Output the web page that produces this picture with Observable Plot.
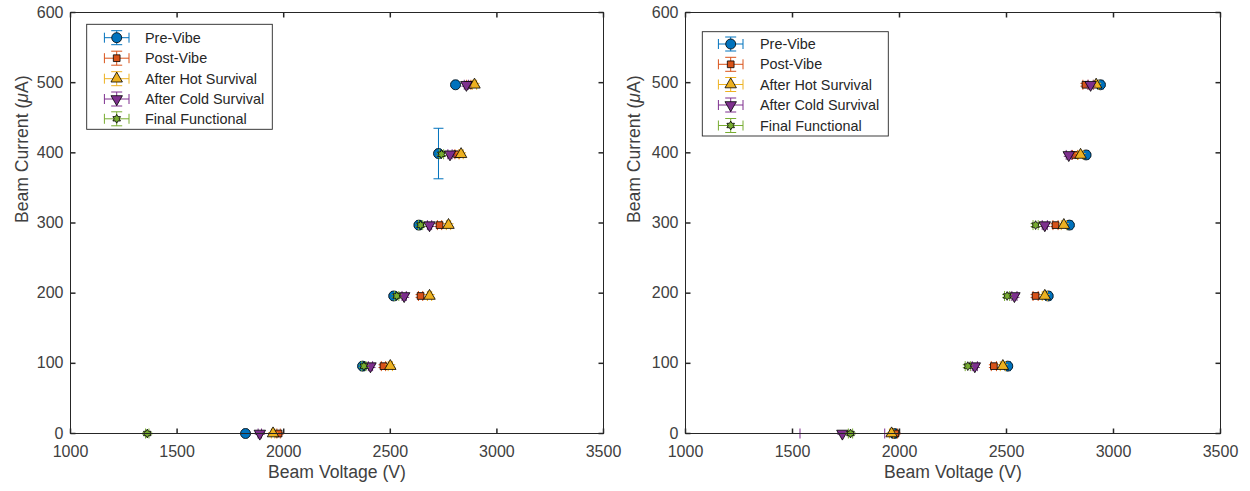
<!DOCTYPE html>
<html>
<head>
<meta charset="utf-8">
<script src="https://cdn.jsdelivr.net/npm/d3@7"></script>
<script src="https://cdn.jsdelivr.net/npm/@observablehq/plot@0.6"></script>
<style>
  body { margin: 0; background: #fff; }
  #wrap { position: relative; width: 1250px; height: 491px; display: flex; font-family: "Liberation Sans", Arial, Helvetica, sans-serif; }
  .panel { position: relative; width: 625px; height: 491px; }
  .panel svg.overlay { position: absolute; left: 0; top: 0; pointer-events: none; }
</style>
</head>
<body>
<div id="wrap"></div>
<script>
// ---------- data ----------
const seriesNames = ["Pre-Vibe", "Post-Vibe", "After Hot Survival", "After Cold Survival", "Final Functional"];
const seriesColors = ["#0072BD", "#D95319", "#EDB120", "#7E2F8E", "#77AC30"];
const xTicks = [1000, 1500, 2000, 2500, 3000, 3500];
const yTicks = [0, 100, 200, 300, 400, 500, 600];
const xLabel = "Beam Voltage (V)";
const yLabel = "Beam Current (μA)";

// rows: [beam voltage (V), beam current (µA), voltage error (V), current error (µA)]
const leftPreVibe         = [[1821, 0, 8, 1], [2370, 96, 10, 2], [2516, 196, 10, 2], [2634, 297, 10, 2], [2726, 399, 10, 36], [2806, 497, 8, 2]];
const leftPostVibe        = [[1976, 0, 8, 1], [2468, 96, 10, 2], [2642, 196, 10, 2], [2731, 297, 10, 2], [2813, 398, 10, 2], [2868, 497, 10, 2]];
const leftHotSurvival     = [[1950, 0, 8, 1], [2500, 96, 10, 2], [2684, 196, 10, 2], [2773, 297, 10, 2], [2832, 398, 10, 2], [2895, 497, 10, 2]];
const leftColdSurvival    = [[1888, 0, 8, 1], [2407, 96, 10, 2], [2565, 196, 10, 2], [2684, 297, 10, 2], [2780, 398, 10, 2], [2857, 497, 10, 2]];
const leftFinalFunctional = [[1360, 0, 8, 1], [2376, 96, 10, 2], [2530, 196, 10, 2], [2642, 297, 10, 2], [2740, 398, 10, 2]];

const rightPreVibe         = [[1975, 0, 10, 1], [2506, 96, 12, 2], [2695, 196, 12, 2], [2794, 297, 12, 2], [2872, 397, 12, 2], [2939, 497, 12, 2]];
const rightPostVibe        = [[1981, 0, 10, 1], [2441, 96, 12, 2], [2636, 196, 12, 2], [2729, 297, 12, 2], [2820, 397, 12, 2], [2869, 497, 12, 2]];
const rightHotSurvival     = [[1963, 0, 10, 1], [2483, 96, 12, 2], [2679, 196, 12, 2], [2768, 297, 12, 2], [2846, 397, 12, 2], [2919, 497, 12, 2]];
const rightColdSurvival    = [[1733, 0, 198, 1], [2352, 96, 12, 2], [2537, 196, 12, 2], [2679, 297, 12, 2], [2791, 397, 12, 2], [2893, 497, 12, 2]];
const rightFinalFunctional = [[1771, 0, 10, 1], [2319, 96, 12, 2], [2503, 196, 12, 2], [2636, 297, 12, 2]];

// ---------- symbols ----------
function poly(ctx, pts) { pts.forEach(([x, y], i) => i ? ctx.lineTo(x, y) : ctx.moveTo(x, y)); ctx.closePath(); }
const symCircle = { draw(ctx, size) { const R = Math.sqrt(size / Math.PI); ctx.moveTo(R, 0); ctx.arc(0, 0, R, 0, 2 * Math.PI); } };
const symSquare = { draw(ctx, size) { const h = Math.sqrt(size / Math.PI) * 0.8; poly(ctx, [[-h, -h], [h, -h], [h, h], [-h, h]]); } };
const symTriUp = { draw(ctx, size) { const R = Math.sqrt(size / Math.PI) * 1.5; poly(ctx, [[0, -R], [R * 0.866, R * 0.5], [-R * 0.866, R * 0.5]]); } };
const symTriDown = { draw(ctx, size) { const R = Math.sqrt(size / Math.PI) * 1.5; poly(ctx, [[0, R], [R * 0.866, -R * 0.5], [-R * 0.866, -R * 0.5]]); } };
const symHex = { draw(ctx, size) {
  const R = Math.sqrt(size / Math.PI) * 1.1, r = R / Math.sqrt(3), pts = [];
  for (let k = 0; k < 12; k++) { const a = -Math.PI / 2 + k * Math.PI / 12 * 2 / 2 * 1; const rr = k % 2 ? r : R; const ang = -Math.PI / 2 + k * Math.PI / 6; pts.push([rr * Math.cos(ang), rr * Math.sin(ang)]); }
  poly(ctx, pts);
} };
const seriesSymbols = [symCircle, symSquare, symTriUp, symTriDown, symHex];
const seriesR = [5, 4.2, 4.4, 4.4, 4];

const CAP = 5;
const capH = { draw(ctx) { ctx.moveTo(-CAP, 0); ctx.lineTo(CAP, 0); } };
const capV = { draw(ctx) { ctx.moveTo(0, -CAP); ctx.lineTo(0, CAP); } };
const TL = 5;
const tickUp = { draw(ctx) { ctx.moveTo(0, 0); ctx.lineTo(0, -TL); } };
const tickDown = { draw(ctx) { ctx.moveTo(0, 0); ctx.lineTo(0, TL); } };
const tickRight = { draw(ctx) { ctx.moveTo(0, 0); ctx.lineTo(TL, 0); } };
const tickLeft = { draw(ctx) { ctx.moveTo(0, 0); ctx.lineTo(-TL, 0); } };

const AX = "#262626";
const TXT = "#404040";

function makePanel(series, cfg) {
  const xd = [xTicks[0], xTicks[xTicks.length - 1]], yd = [yTicks[0], yTicks[yTicks.length - 1]];
  const marks = [];
  series.forEach((rows, i) => {
    const c = seriesColors[i];
    marks.push(Plot.link(rows, { x1: d => d[0] - d[2], x2: d => d[0] + d[2], y1: d => d[1], y2: d => d[1], stroke: c, strokeWidth: 1 }));
    marks.push(Plot.link(rows, { x1: d => d[0], x2: d => d[0], y1: d => d[1] - d[3], y2: d => d[1] + d[3], stroke: c, strokeWidth: 1 }));
    marks.push(Plot.dot(rows, { x: d => d[0] - d[2], y: d => d[1], symbol: capV, r: 3, stroke: c, fill: "none", strokeWidth: 1 }));
    marks.push(Plot.dot(rows, { x: d => d[0] + d[2], y: d => d[1], symbol: capV, r: 3, stroke: c, fill: "none", strokeWidth: 1 }));
    marks.push(Plot.dot(rows, { x: d => d[0], y: d => d[1] - d[3], symbol: capH, r: 3, stroke: c, fill: "none", strokeWidth: 1 }));
    marks.push(Plot.dot(rows, { x: d => d[0], y: d => d[1] + d[3], symbol: capH, r: 3, stroke: c, fill: "none", strokeWidth: 1 }));
    marks.push(Plot.dot(rows, { x: d => d[0], y: d => d[1], symbol: seriesSymbols[i], r: seriesR[i], fill: c, stroke: "#000", strokeWidth: 0.8 }));
  });
  marks.push(
    Plot.dot(xTicks, { x: d => d, y: () => yd[0], symbol: tickUp, r: 3, stroke: AX, fill: "none" }),
    Plot.dot(xTicks, { x: d => d, y: () => yd[1], symbol: tickDown, r: 3, stroke: AX, fill: "none" }),
    Plot.dot(yTicks, { y: d => d, x: () => xd[0], symbol: tickRight, r: 3, stroke: AX, fill: "none" }),
    Plot.dot(yTicks, { y: d => d, x: () => xd[1], symbol: tickLeft, r: 3, stroke: AX, fill: "none" }),
    Plot.frame({ stroke: AX, strokeWidth: 1 }),
    Plot.axisX({ ticks: xTicks, tickSize: 0, tickPadding: 12.5, label: null, tickFormat: d3.format("d"), fill: TXT }),
    Plot.axisY({ ticks: yTicks, tickSize: 0, tickPadding: 7, label: null, tickFormat: d3.format("d"), fill: TXT }),
    Plot.text([xLabel], { frameAnchor: "bottom", dy: 44, fontSize: 17.6, fill: TXT }),
    Plot.text([yLabel], { frameAnchor: "left", dx: cfg.yLabelDx, rotate: -90, fontSize: 17.6, fill: TXT })
  );
  const svg = Plot.plot({
    width: 625, height: 491,
    marginLeft: cfg.ml, marginRight: cfg.mr, marginTop: 12, marginBottom: 58,
    x: { domain: xd }, y: { domain: yd },
    style: { fontFamily: '"Liberation Sans", Arial, Helvetica, sans-serif', fontSize: "16px", color: TXT, background: "white", overflow: "visible" },
    marks
  });
  // italic mu in y label
  d3.select(svg).selectAll("text").filter(function () { return this.textContent === yLabel; }).each(function () {
    const t = d3.select(this);
    t.text(null);
    t.append("tspan").text("Beam Current (");
    t.append("tspan").attr("font-style", "italic").text("μ");
    t.append("tspan").text("A)");
  });

  const div = document.createElement("div");
  div.className = "panel";
  div.appendChild(svg);

  // legend overlay
  const L = cfg.legend;
  const ov = d3.select(div).append("svg").attr("class", "overlay").attr("width", 625).attr("height", 491);
  ov.append("rect").attr("x", L.x0).attr("y", L.y0).attr("width", L.x1 - L.x0).attr("height", L.y1 - L.y0)
    .attr("fill", "#fff").attr("stroke", AX).attr("stroke-width", 0.9);
  seriesNames.forEach((name, i) => {
    const cy = L.rows[i], cx = L.cx, c = seriesColors[i];
    const g = ov.append("g").attr("stroke", c).attr("stroke-width", 1).attr("fill", "none");
    g.append("line").attr("x1", cx - 12.3).attr("x2", cx + 12.3).attr("y1", cy).attr("y2", cy);
    g.append("line").attr("x1", cx - 12.3).attr("x2", cx - 12.3).attr("y1", cy - 5).attr("y2", cy + 5);
    g.append("line").attr("x1", cx + 12.3).attr("x2", cx + 12.3).attr("y1", cy - 5).attr("y2", cy + 5);
    g.append("line").attr("x1", cx).attr("x2", cx).attr("y1", cy - 7).attr("y2", cy + 7);
    g.append("line").attr("x1", cx - 5.5).attr("x2", cx + 5.5).attr("y1", cy - 7).attr("y2", cy - 7);
    g.append("line").attr("x1", cx - 5.5).attr("x2", cx + 5.5).attr("y1", cy + 7).attr("y2", cy + 7);
    ov.append("path").attr("transform", `translate(${cx},${cy})`)
      .attr("d", d3.symbol(seriesSymbols[i], Math.PI * seriesR[i] * seriesR[i])())
      .attr("fill", c).attr("stroke", "#000").attr("stroke-width", 0.8);
    ov.append("text").attr("x", L.tx).attr("y", cy).attr("dy", "0.35em")
      .attr("font-family", '"Liberation Sans", Arial, Helvetica, sans-serif').attr("font-size", 14.4)
      .attr("fill", "#262626").text(name);
  });
  return div;
}

const wrap = document.getElementById("wrap");
wrap.appendChild(makePanel(
  [leftPreVibe, leftPostVibe, leftHotSurvival, leftColdSurvival, leftFinalFunctional],
  { ml: 70, mr: 22, yLabelDx: -48,
    legend: { x0: 86.7, x1: 272.3, y0: 24.3, y1: 129.3, cx: 116.7, tx: 145, rows: [37.7, 58.2, 78.7, 99, 118.8] } }
));
wrap.appendChild(makePanel(
  [rightPreVibe, rightPostVibe, rightHotSurvival, rightColdSurvival, rightFinalFunctional],
  { ml: 60, mr: 30, yLabelDx: -51,
    legend: { x0: 77.3, x1: 263.3, y0: 31.7, y1: 136, cx: 105.7, tx: 135, rows: [44, 64.3, 84.5, 105, 125.5] } }
));
</script>
</body>
</html>
